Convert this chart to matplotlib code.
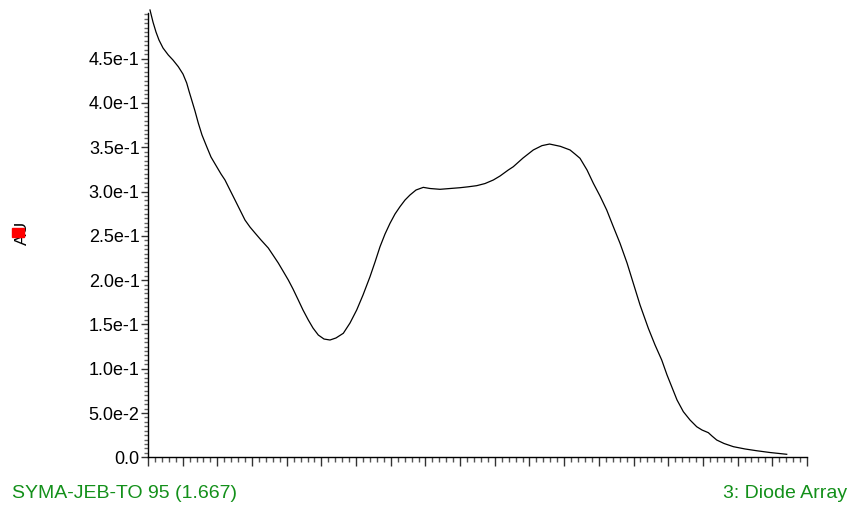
"""
Espectro UV (detector de arreglo de diodos) con el máximo anotado.
"""
import matplotlib
matplotlib.use("Agg")
import matplotlib.pyplot as plt
from matplotlib.ticker import MultipleLocator, FixedLocator, NullFormatter, FuncFormatter
from matplotlib.patches import Rectangle

# --- datos ---
longitud_onda = [210.58, 211.44, 212.31, 213.17, 214.33, 215.85, 217.21, 218.74,
                 220.09, 221.16, 221.82, 222.60, 223.55, 224.50, 225.57, 226.93,
                 228.17, 229.81, 231.05, 232.20, 233.64, 235.09, 236.53, 237.97,
                 239.41, 240.85, 242.58, 244.69, 246.04, 247.57, 248.93, 250.46,
                 251.81, 253.34, 254.69, 256.22, 257.58, 259.11, 260.75, 262.48,
                 264.21, 266.32, 268.25, 270.18, 272.00, 274.01, 275.46, 276.90,
                 278.34, 279.78, 281.22, 282.66, 284.11, 285.55, 287.28, 289.38,
                 291.32, 294.20, 297.08, 299.97, 302.27, 304.78, 307.17, 309.57,
                 311.50, 313.89, 315.33, 318.13, 321.10, 323.60, 325.79, 328.90,
                 331.69, 333.13, 334.57, 336.59, 338.41, 340.34, 342.27, 344.09,
                 346.11, 348.13, 349.94, 351.88, 354.27, 356.20, 358.13, 359.66,
                 361.01, 362.54, 364.36, 366.29, 368.22, 369.75, 371.57, 372.63,
                 373.99, 376.09, 378.78, 382.15, 385.52, 389.36, 394.17]
absorbancia = [0.5049, 0.4913, 0.4800, 0.4710, 0.4620, 0.4541, 0.4484, 0.4409,
               0.4326, 0.4225, 0.4134, 0.4033, 0.3909, 0.3773, 0.3638, 0.3506,
               0.3389, 0.3280, 0.3198, 0.3130, 0.3017, 0.2904, 0.2791, 0.2678,
               0.2599, 0.2532, 0.2453, 0.2362, 0.2283, 0.2193, 0.2103, 0.2001,
               0.1900, 0.1775, 0.1663, 0.1550, 0.1459, 0.1380, 0.1335, 0.1324,
               0.1347, 0.1400, 0.1516, 0.1663, 0.1832, 0.2038, 0.2204, 0.2377,
               0.2520, 0.2641, 0.2746, 0.2829, 0.2904, 0.2961, 0.3017, 0.3047,
               0.3034, 0.3025, 0.3034, 0.3043, 0.3053, 0.3066, 0.3090, 0.3130,
               0.3175, 0.3243, 0.3280, 0.3378, 0.3469, 0.3518, 0.3536, 0.3510,
               0.3469, 0.3423, 0.3375, 0.3243, 0.3093, 0.2949, 0.2791, 0.2611,
               0.2415, 0.2193, 0.1964, 0.1719, 0.1456, 0.1268, 0.1098, 0.0929,
               0.0797, 0.0647, 0.0515, 0.0421, 0.0345, 0.0308, 0.0278, 0.0240,
               0.0195, 0.0156, 0.0120, 0.0094, 0.0074, 0.0054, 0.0034]
pico_nm = 325.79
marcas_y = [0.0, 0.05, 0.10, 0.15, 0.20, 0.25, 0.30, 0.35, 0.40, 0.45]
muestra = "SYMA-JEB-TO 95 (1.667)"
detector = "3: Diode Array"
unidad = "AU"

VERDE = "#13901a"


def formato_y(v, pos):
    if abs(v) < 1e-12:
        return "0.0"
    return f"{v:.1e}".replace("e-0", "e-")


fig = plt.figure(figsize=(8.53, 5.08), dpi=100)
ax = fig.add_axes([0.1735, 0.0998, 0.946 - 0.1735, 0.9744 - 0.0998])

ax.plot(longitud_onda, absorbancia, color="black", lw=0.9, clip_on=False)

ax.set_xlim(210, 400)
ax.set_ylim(0, 0.5015)

for lado in ("top", "right"):
    ax.spines[lado].set_visible(False)
for lado in ("left", "bottom"):
    ax.spines[lado].set_linewidth(1.0)

ax.xaxis.set_major_locator(MultipleLocator(10))
ax.xaxis.set_minor_locator(MultipleLocator(2))
ax.xaxis.set_major_formatter(NullFormatter())
ax.yaxis.set_major_locator(FixedLocator(marcas_y))
ax.yaxis.set_minor_locator(MultipleLocator(0.005))
ax.yaxis.set_major_formatter(FuncFormatter(formato_y))

ax.tick_params(axis="x", which="major", length=6.5, width=1, color="#333333")
ax.tick_params(axis="x", which="minor", length=3.3, width=1, color="#555555")
ax.tick_params(axis="y", which="major", length=5, width=1, color="#333333",
               labelsize=13, pad=1)
ax.tick_params(axis="y", which="minor", length=3, width=1, color="#666666")
for lbl in ax.get_yticklabels():
    lbl.set_family("Liberation Sans")

# etiqueta del máximo
y_pico = max(absorbancia)
ax.annotate(f"{pico_nm:.2f}", xy=(pico_nm, y_pico), xytext=(0, 1.5),
            textcoords="offset points", ha="center", va="bottom",
            fontsize=13, family="Liberation Sans")

# etiqueta del eje y con marcador rojo
fig.text(22 / 853, 1 - 233 / 508, unidad, rotation=90, ha="center", va="center",
         fontsize=12.5, family="Liberation Sans")
fig.patches.append(Rectangle((12 / 853, 1 - 237 / 508), 12 / 853, 9 / 508,
                             transform=fig.transFigure, color="red", zorder=5))

# textos inferiores
fig.text(12 / 853, 1 - 494 / 508, muestra, ha="left", va="center",
         fontsize=14, color=VERDE, family="Liberation Sans")
fig.text(847 / 853, 1 - 494 / 508, detector, ha="right", va="center",
         fontsize=14, color=VERDE, family="Liberation Sans")

fig.savefig("out.png", dpi=100)
